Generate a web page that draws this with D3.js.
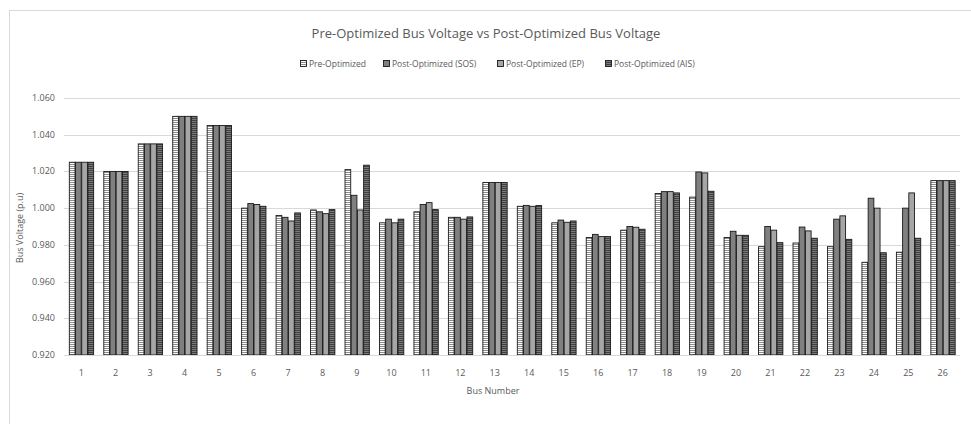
<!DOCTYPE html>
<html>
<head>
<meta charset="utf-8">
<script src="https://cdn.jsdelivr.net/npm/d3@7"></script>
<style>
  body { margin: 0; background: #fff; }
  text { font-family: "Open Sans", "Noto Sans", sans-serif; fill: #595959; }
</style>
</head>
<body>
<svg id="chart" width="971" height="424"></svg>
<script>
// values
var buses = ["1","2","3","4","5","6","7","8","9","10","11","12","13","14","15","16","17","18","19","20","21","22","23","24","25","26"];
var pre = [1.025,1.020,1.035,1.050,1.045,1.000,0.996,0.999,1.021,0.992,0.998,0.995,1.014,1.001,0.992,0.984,0.988,1.008,1.006,0.984,0.979,0.981,0.979,0.9705,0.976,1.015];
var sos = [1.025,1.020,1.035,1.050,1.045,1.0025,0.995,0.998,1.007,0.994,1.002,0.995,1.014,1.0015,0.9935,0.9857,0.990,1.009,1.0197,0.9874,0.990,0.9897,0.994,1.0054,1.000,1.015];
var ep = [1.025,1.020,1.035,1.050,1.045,1.002,0.993,0.997,0.999,0.992,1.003,0.994,1.014,1.001,0.9923,0.9845,0.9896,1.009,1.0192,0.9852,0.988,0.9876,0.9958,1.000,1.0083,1.015];
var ais = [1.025,1.020,1.035,1.050,1.045,1.001,0.9974,0.9992,1.0234,0.994,0.9992,0.9952,1.014,1.0014,0.993,0.9845,0.9885,1.0083,1.0092,0.9852,0.9812,0.9836,0.983,0.9757,0.9836,1.015];
var seriesNames = ["Pre-Optimized", "Post-Optimized (SOS)", "Post-Optimized (EP)", "Post-Optimized (AIS)"];
var yTicks = [0.92, 0.94, 0.96, 0.98, 1.00, 1.02, 1.04, 1.06];

var series = [pre, sos, ep, ais];
var fills = ["url(#pPre)", "#808080", "#a6a6a6", "url(#pAis)"];

var svg = d3.select("#chart");

// patterns
var defs = svg.append("defs");
var p1 = defs.append("pattern").attr("id", "pPre")
    .attr("patternUnits", "userSpaceOnUse").attr("width", 4).attr("height", 2);
p1.append("rect").attr("width", 4).attr("height", 2).attr("fill", "#ffffff");
p1.append("rect").attr("width", 4).attr("height", 1).attr("fill", "#8c8c8c");
var p2 = defs.append("pattern").attr("id", "pAis")
    .attr("patternUnits", "userSpaceOnUse").attr("width", 4).attr("height", 2);
p2.append("rect").attr("width", 4).attr("height", 2).attr("fill", "#7a7a7a");
p2.append("rect").attr("width", 4).attr("height", 1).attr("fill", "#404040");

// outer frame
svg.append("rect")
    .attr("x", 9.5).attr("y", 10.5)
    .attr("width", 980).attr("height", 430)
    .attr("fill", "none").attr("stroke", "#d9d9d9");

var plotL = 64, plotR = 960, plotT = 98, plotB = 355;

var x = d3.scaleBand().domain(buses).range([plotL, plotR])
    .paddingInner(0.28).paddingOuter(0.14);
var x1 = d3.scaleBand().domain([0, 1, 2, 3]).range([0, x.bandwidth()]);
var y = d3.scaleLinear().domain([0.92, 1.06]).range([plotB, plotT]);

// gridlines
svg.append("g").selectAll("line").data(yTicks.slice(1)).join("line")
    .attr("x1", plotL).attr("x2", plotR)
    .attr("y1", d => Math.round(y(d)) + 0.5).attr("y2", d => Math.round(y(d)) + 0.5)
    .attr("stroke", "#d9d9d9");

// y tick labels
svg.append("g").selectAll("text").data(yTicks).join("text")
    .attr("x", 55).attr("y", d => y(d) + 3)
    .attr("text-anchor", "end")
    .style("font-size", "9px")
    .text(d => d3.format(".3f")(d));

// bars
var groups = svg.append("g").selectAll("g").data(buses).join("g")
    .attr("transform", d => "translate(" + x(d) + ",0)");
groups.selectAll("rect")
    .data((d, i) => series.map((s, k) => ({k: k, v: s[i]})))
    .join("rect")
    .attr("x", d => x1(d.k) + 0.5)
    .attr("y", d => y(d.v))
    .attr("width", x1.bandwidth() - 0.5)
    .attr("height", d => plotB - y(d.v))
    .attr("fill", d => fills[d.k])
    .attr("stroke", "#1a1a1a")
    .attr("stroke-width", 0.9);

// x axis line
svg.append("line")
    .attr("x1", plotL).attr("x2", plotR)
    .attr("y1", plotB + 0.5).attr("y2", plotB + 0.5)
    .attr("stroke", "#d9d9d9");

// x labels
svg.append("g").selectAll("text").data(buses).join("text")
    .attr("x", d => x(d) + x.bandwidth() / 2)
    .attr("y", 376)
    .attr("text-anchor", "middle")
    .style("font-size", "9px")
    .text(d => d);

// axis titles
svg.append("text")
    .attr("x", 493).attr("y", 394)
    .attr("text-anchor", "middle")
    .style("font-size", "9px")
    .text("Bus Number");
svg.append("text")
    .attr("transform", "translate(23,228) rotate(-90)")
    .attr("text-anchor", "middle")
    .style("font-size", "9px")
    .text("Bus Voltage (p.u)");

// title
svg.append("text")
    .attr("x", 486).attr("y", 38)
    .attr("text-anchor", "middle")
    .style("font-size", "13px")
    .text("Pre-Optimized Bus Voltage vs Post-Optimized Bus Voltage");

// legend
var legX = [300, 383, 497, 605];
var leg = svg.append("g").selectAll("g").data(seriesNames).join("g")
    .attr("transform", (d, i) => "translate(" + legX[i] + ",60)");
leg.append("rect")
    .attr("x", 0.5).attr("y", 0.5).attr("width", 6).attr("height", 6)
    .attr("fill", (d, i) => fills[i])
    .attr("stroke", "#1a1a1a").attr("stroke-width", 0.9);
leg.append("text")
    .attr("x", 9).attr("y", 7)
    .style("font-size", "8.5px")
    .text(d => d);
</script>
</body>
</html>
